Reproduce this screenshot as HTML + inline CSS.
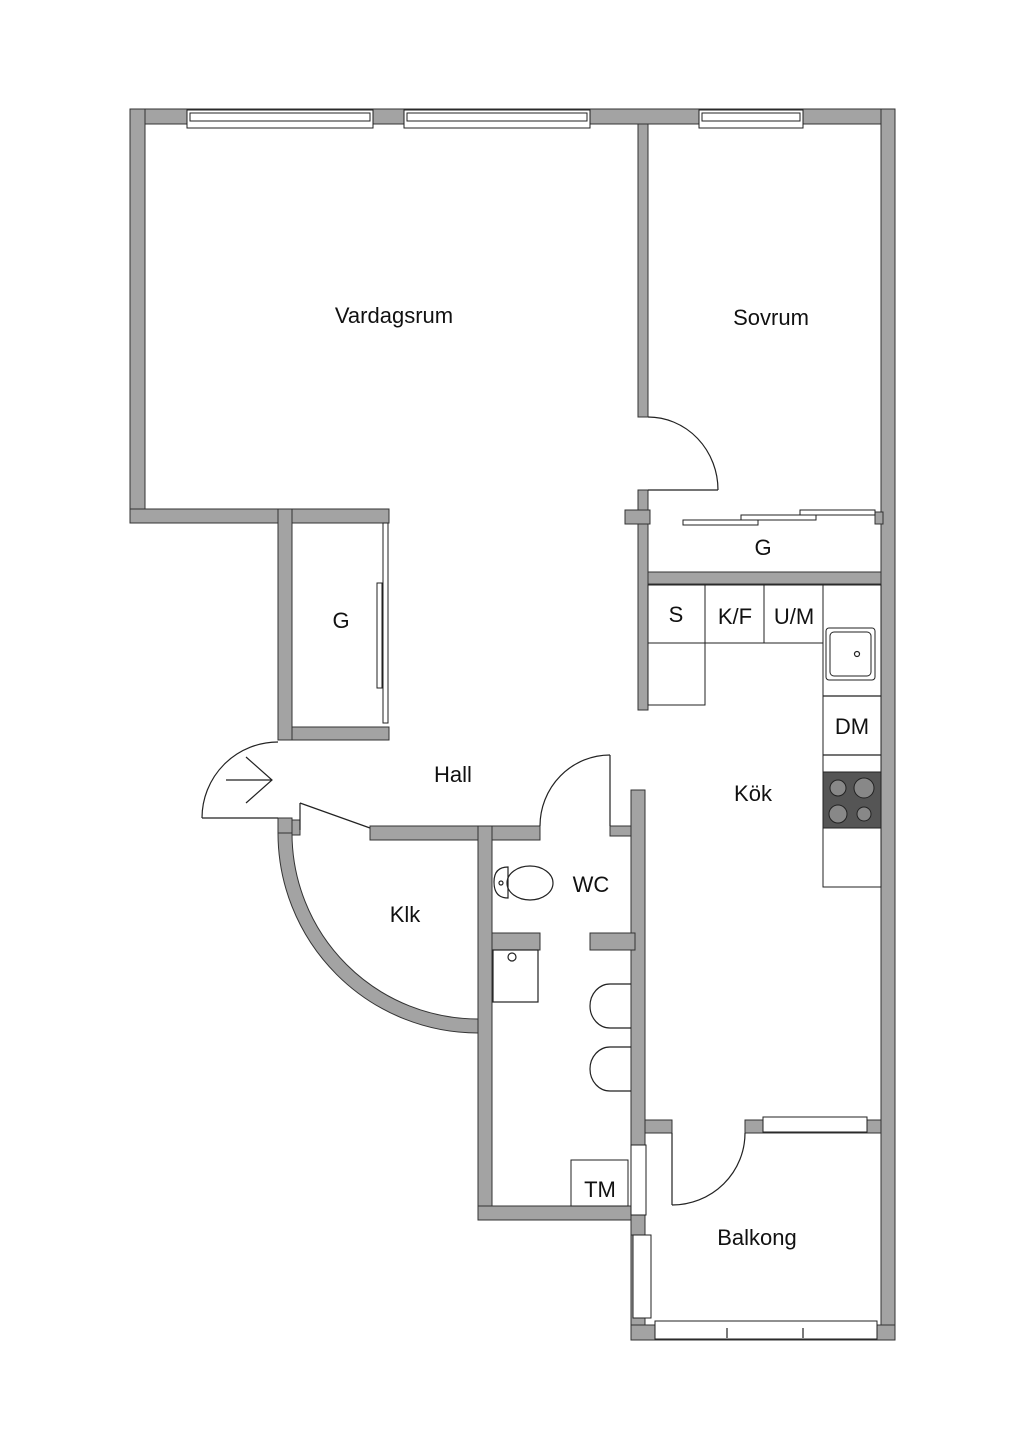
<!DOCTYPE html>
<html><head><meta charset="utf-8"><style>
html,body{margin:0;padding:0;background:#fff}
svg{display:block}
text{font-family:"Liberation Sans",sans-serif;font-size:22px;fill:#111}
.w{fill:#a3a3a3;stroke:#333;stroke-width:1}
.l{fill:none;stroke:#222;stroke-width:1.2}
.b{fill:#fff;stroke:#222;stroke-width:1}
</style></head><body>
<svg width="1024" height="1448" viewBox="0 0 1024 1448" xmlns="http://www.w3.org/2000/svg">
<!-- outer walls -->
<rect class="w" x="130" y="109" width="765" height="15"/>
<rect class="w" x="130" y="109" width="15" height="414"/>
<rect class="w" x="130" y="509" width="259" height="14"/>
<rect class="w" x="881" y="109" width="14" height="1231"/>
<rect class="w" x="638" y="124" width="10" height="293"/>
<rect class="w" x="638" y="490" width="10" height="220"/>
<rect class="w" x="625" y="510" width="25" height="14"/>
<rect class="w" x="875" y="512" width="8" height="12"/>
<rect class="w" x="648" y="572" width="233" height="12"/>
<!-- left closet -->
<rect class="w" x="278" y="509" width="14" height="231"/>
<rect class="w" x="292" y="727" width="97" height="13"/>
<rect class="b" x="383" y="523" width="5" height="200"/>
<rect class="b" x="377" y="583" width="5" height="105"/>
<!-- sovrum closet doors -->
<rect class="b" x="683" y="520" width="75" height="5"/>
<rect class="b" x="741" y="515" width="75" height="5"/>
<rect class="b" x="800" y="510" width="75" height="5"/>
<!-- windows top -->
<rect class="b" x="187" y="110" width="186" height="18"/>
<rect class="b" x="190" y="113" width="180" height="8"/>
<rect class="b" x="404" y="110" width="186" height="18"/>
<rect class="b" x="407" y="113" width="180" height="8"/>
<rect class="b" x="699" y="110" width="104" height="18"/>
<rect class="b" x="702" y="113" width="98" height="8"/>
<!-- hall / klk -->
<rect class="w" x="278" y="818" width="14" height="15"/>
<rect class="w" x="292" y="820" width="8" height="15"/>
<path class="w" d="M278 833 A200 200 0 0 0 478 1033 L478 1019 A186 186 0 0 1 292 833 Z"/>
<line class="l" x1="300" y1="803" x2="370" y2="828"/>
<line class="l" x1="300" y1="803" x2="300" y2="830"/>
<rect class="w" x="370" y="826" width="170" height="14"/>
<rect class="w" x="610" y="826" width="35" height="10"/>
<rect class="w" x="478" y="826" width="14" height="394"/>
<rect class="w" x="478" y="1206" width="167" height="14"/>
<rect class="w" x="631" y="790" width="14" height="450"/>
<rect class="w" x="492" y="933" width="48" height="17"/>
<rect class="w" x="590" y="933" width="45" height="17"/>
<!-- entry door -->
<line class="l" x1="202" y1="818" x2="278" y2="818"/>
<path class="l" d="M202 818 A76 76 0 0 1 278 742"/>
<line class="l" x1="226" y1="780" x2="272" y2="780"/>
<polyline class="l" points="246,757 272,780 246,803"/>
<!-- sovrum door -->
<line class="l" x1="648" y1="490" x2="718" y2="490"/>
<path class="l" d="M718 490 A70 73 0 0 0 648 417"/>
<!-- wc door -->
<line class="l" x1="610" y1="755" x2="610" y2="826"/>
<path class="l" d="M610 755 A70 71 0 0 0 540 826"/>
<!-- wc fixtures -->
<path class="l" d="M508 867 Q494 867 494 882 Q494 898 508 898 Z"/>
<ellipse class="l" cx="530" cy="883" rx="23" ry="17"/>
<circle class="l" cx="501" cy="883" r="2"/>
<rect class="l" x="493" y="950" width="45" height="52"/>
<circle class="l" cx="512" cy="957" r="4"/>
<path class="l" d="M631 984 L610 984 A20 22 0 0 0 610 1028 L631 1028"/>
<path class="l" d="M631 1047 L610 1047 A20 22 0 0 0 610 1091 L631 1091"/>
<rect class="b" x="571" y="1160" width="57" height="46"/>
<rect class="b" x="631" y="1145" width="15" height="70"/>
<!-- kitchen counter -->
<rect class="b" x="648" y="585" width="57" height="58"/>
<rect class="b" x="705" y="585" width="59" height="58"/>
<rect class="b" x="764" y="585" width="59" height="58"/>
<rect class="b" x="648" y="643" width="57" height="62"/>
<rect class="b" x="823" y="585" width="58" height="302"/>
<line class="l" x1="823" y1="696" x2="881" y2="696"/>
<line class="l" x1="823" y1="755" x2="881" y2="755"/>
<rect class="b" x="826" y="628" width="49" height="52" rx="3"/>
<rect class="b" x="830" y="632" width="41" height="44" rx="4"/>
<circle class="l" cx="857" cy="654" r="2.5"/>
<rect x="823" y="772" width="58" height="56" fill="#555" stroke="#222"/>
<circle cx="838" cy="788" r="8" fill="#888" stroke="#222"/>
<circle cx="864" cy="788" r="10" fill="#888" stroke="#222"/>
<circle cx="838" cy="814" r="9" fill="#888" stroke="#222"/>
<circle cx="864" cy="814" r="7" fill="#888" stroke="#222"/>
<!-- balcony -->
<rect class="w" x="645" y="1120" width="27" height="13"/>
<rect class="w" x="745" y="1120" width="136" height="13"/>
<rect class="b" x="763" y="1117" width="104" height="15"/>
<line class="l" x1="672" y1="1133" x2="672" y2="1205"/>
<path class="l" d="M672 1205 A73 72 0 0 0 745 1133"/>
<rect class="w" x="631" y="1235" width="14" height="105"/>
<rect class="w" x="631" y="1325" width="264" height="15"/>
<rect class="b" x="633" y="1235" width="18" height="83"/>
<rect class="b" x="655" y="1321" width="222" height="18"/>
<line class="l" x1="727" y1="1328" x2="727" y2="1338"/>
<line class="l" x1="803" y1="1328" x2="803" y2="1338"/>
<!-- labels -->
<text x="394" y="323" text-anchor="middle">Vardagsrum</text>
<text x="771" y="325" text-anchor="middle">Sovrum</text>
<text x="763" y="555" text-anchor="middle">G</text>
<text x="341" y="628" text-anchor="middle">G</text>
<text x="676" y="622" text-anchor="middle">S</text>
<text x="735" y="624" text-anchor="middle">K/F</text>
<text x="794" y="624" text-anchor="middle">U/M</text>
<text x="852" y="734" text-anchor="middle">DM</text>
<text x="453" y="782" text-anchor="middle">Hall</text>
<text x="753" y="801" text-anchor="middle">Kök</text>
<text x="591" y="892" text-anchor="middle">WC</text>
<text x="405" y="922" text-anchor="middle">Klk</text>
<text x="600" y="1197" text-anchor="middle">TM</text>
<text x="757" y="1245" text-anchor="middle">Balkong</text>
</svg>
</body></html>
